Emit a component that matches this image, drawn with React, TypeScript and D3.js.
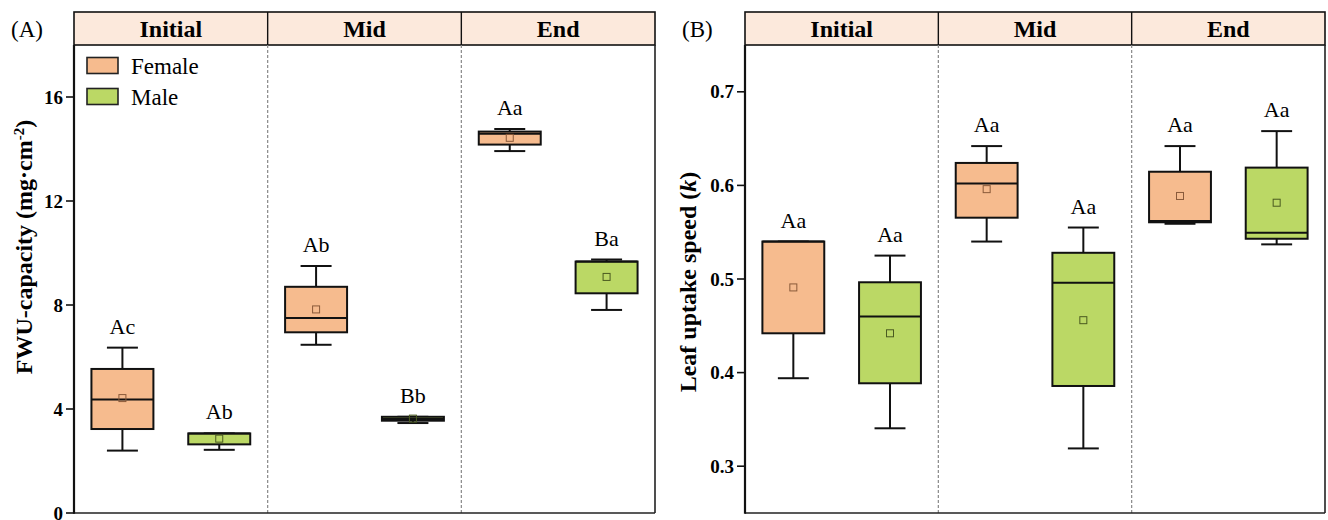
import React from "react";
import * as d3 from "d3";

const stages = ["Initial", "Mid", "End"];
const sexes = ["Female", "Male"];

// Box stats per stage: [whiskerLow, q1, median, q3, whiskerHigh, mean]
const fwuFemale = [
  [2.4, 3.23, 4.37, 5.54, 6.36, 4.42],
  [6.47, 6.95, 7.5, 8.7, 9.5, 7.83],
  [13.92, 14.17, 14.59, 14.67, 14.77, 14.43],
];
const fwuMale = [
  [2.43, 2.64, 3.06, 3.06, 3.06, 2.86],
  [3.46, 3.55, 3.62, 3.7, 3.7, 3.63],
  [7.81, 8.45, 9.67, 9.67, 9.75, 9.08],
];
const fwuFemaleLetters = ["Ac", "Ab", "Aa"];
const fwuMaleLetters = ["Ab", "Bb", "Ba"];
const fwuTicks = [0, 4, 8, 12, 16];

const kFemale = [
  [0.394, 0.442, 0.54, 0.54, 0.54, 0.491],
  [0.54, 0.5655, 0.602, 0.624, 0.642, 0.596],
  [0.559, 0.5606, 0.562, 0.6146, 0.642, 0.5887],
];
const kMale = [
  [0.3405, 0.3886, 0.46, 0.4965, 0.525, 0.442],
  [0.319, 0.3857, 0.496, 0.528, 0.555, 0.456],
  [0.537, 0.543, 0.5495, 0.619, 0.658, 0.5815],
];
const kFemaleLetters = ["Aa", "Aa", "Aa"];
const kMaleLetters = ["Aa", "Aa", "Aa"];
const kTicks = [0.3, 0.4, 0.5, 0.6, 0.7];

const fills: Record<string, string> = { Female: "#F6BB8E", Male: "#BBD865" };
const meanStroke: Record<string, string> = { Female: "#8a5a3a", Male: "#4a5a20" };
const SERIF = "'Liberation Serif', 'Times New Roman', serif";

type PanelProps = {
  left: number;
  right: number;
  tag: string;
  domain: [number, number];
  ticks: number[];
  tickFmt: (v: number) => string;
  female: number[][];
  male: number[][];
  femaleLetters: string[];
  maleLetters: string[];
  title: React.ReactNode;
  titleX: number;
  titleY: number;
  legend: boolean;
};

const TOP = 12;
const HEAD = 45;
const BOTTOM = 513;

function Panel(p: PanelProps) {
  const y = d3.scaleLinear().domain(p.domain).range([BOTTOM, HEAD]);
  const xs = d3.scaleBand().domain(stages).range([p.left, p.right]).padding(0);
  const inner = d3
    .scaleBand()
    .domain(sexes)
    .range([0, xs.bandwidth()])
    .paddingInner(0.36)
    .paddingOuter(0.18);
  const bw = inner.bandwidth();
  const series: Record<string, { stats: number[][]; letters: string[] }> = {
    Female: { stats: p.female, letters: p.femaleLetters },
    Male: { stats: p.male, letters: p.maleLetters },
  };
  return (
    <g>
      {/* header */}
      <rect x={p.left} y={TOP} width={p.right - p.left} height={HEAD - TOP} fill="#FCE9DC" stroke="#111" strokeWidth={1.6} />
      {stages.map((s, i) => (
        <g key={s}>
          {i > 0 && (
            <line x1={xs(s)!} x2={xs(s)!} y1={TOP} y2={HEAD} stroke="#111" strokeWidth={1.4} />
          )}
          {i > 0 && (
            <line x1={xs(s)!} x2={xs(s)!} y1={HEAD} y2={BOTTOM} stroke="#888" strokeWidth={1.2} strokeDasharray="3,2" />
          )}
          <text x={xs(s)! + xs.bandwidth() / 2} y={36.5} textAnchor="middle" fontFamily={SERIF} fontWeight="bold" fontSize={24}>
            {s}
          </text>
        </g>
      ))}
      {/* frame */}
      <line x1={p.left} x2={p.right} y1={BOTTOM} y2={BOTTOM} stroke="#222" strokeWidth={1.6} />
      <line x1={p.right} x2={p.right} y1={HEAD} y2={BOTTOM} stroke="#222" strokeWidth={1.6} />
      <line x1={p.left} x2={p.left} y1={HEAD} y2={BOTTOM + 0.8} stroke="#111" strokeWidth={2.2} />
      {/* ticks */}
      {p.ticks.map((t) => (
        <g key={t}>
          <line x1={p.left - 8} x2={p.left} y1={y(t)} y2={y(t)} stroke="#111" strokeWidth={1.6} />
          <text x={p.left - 11} y={y(t) + 6.5} textAnchor="end" fontFamily={SERIF} fontWeight="bold" fontSize={19}>
            {p.tickFmt(t)}
          </text>
        </g>
      ))}
      {/* tag */}
      <text x={p.left - 63} y={37} fontFamily={SERIF} fontSize={23}>
        {p.tag}
      </text>
      {/* y title */}
      <text
        transform={`translate(${p.titleX},${p.titleY}) rotate(-90)`}
        textAnchor="middle"
        fontFamily={SERIF}
        fontWeight="bold"
        fontSize={24}
      >
        {p.title}
      </text>
      {/* boxes */}
      {stages.map((s, i) =>
        sexes.map((sx) => {
          const [lo, q1, med, q3, hi, mean] = series[sx].stats[i];
          const cx = xs(s)! + inner(sx)! + bw / 2;
          const x0 = cx - bw / 2;
          const cap = bw / 4;
          return (
            <g key={s + sx}>
              <line x1={cx} x2={cx} y1={y(q3)} y2={y(hi)} stroke="#111" strokeWidth={2} />
              <line x1={cx} x2={cx} y1={y(q1)} y2={y(lo)} stroke="#111" strokeWidth={2} />
              <line x1={cx - cap} x2={cx + cap} y1={y(hi)} y2={y(hi)} stroke="#111" strokeWidth={2} />
              <line x1={cx - cap} x2={cx + cap} y1={y(lo)} y2={y(lo)} stroke="#111" strokeWidth={2} />
              <rect x={x0} y={y(q3)} width={bw} height={y(q1) - y(q3)} fill={fills[sx]} stroke="#111" strokeWidth={2} />
              <line x1={x0} x2={x0 + bw} y1={y(med)} y2={y(med)} stroke="#111" strokeWidth={2} />
              <rect x={cx - 3.5} y={y(mean) - 3.5} width={7} height={7} fill="none" stroke={meanStroke[sx]} strokeWidth={1} />
              <text x={cx} y={y(hi) - 14} textAnchor="middle" fontFamily={SERIF} fontSize={22}>
                {series[sx].letters[i]}
              </text>
            </g>
          );
        })
      )}
      {/* legend */}
      {p.legend &&
        sexes.map((sx, i) => (
          <g key={sx}>
            <rect x={p.left + 13} y={57.5 + i * 31} width={31} height={16} fill={fills[sx]} stroke="#222" strokeWidth={1.6} />
            <text x={p.left + 57} y={73.5 + i * 31} fontFamily={SERIF} fontSize={23}>
              {sx}
            </text>
          </g>
        ))}
    </g>
  );
}

export default function App() {
  return (
    <svg
      width={1328}
      height={520}
      style={{ position: "absolute", left: 0, top: 0, background: "#fff" }}
    >
      <rect width={1328} height={520} fill="#fff" />
      <Panel
        left={74}
        right={655}
        tag="(A)"
        domain={[0, 18]}
        ticks={fwuTicks}
        tickFmt={(v) => String(v)}
        female={fwuFemale}
        male={fwuMale}
        femaleLetters={fwuFemaleLetters}
        maleLetters={fwuMaleLetters}
        titleX={32}
        titleY={247}
        legend={true}
        title={
          <>
            FWU-capacity (mg·cm
            <tspan baselineShift="super" fontSize={15}>-2</tspan>
            )
          </>
        }
      />
      <Panel
        left={745}
        right={1325}
        tag="(B)"
        domain={[0.25, 0.75]}
        ticks={kTicks}
        tickFmt={(v) => d3.format(".1f")(v)}
        female={kFemale}
        male={kMale}
        femaleLetters={kFemaleLetters}
        maleLetters={kMaleLetters}
        titleX={696}
        titleY={282}
        legend={false}
        title={
          <>
            Leaf uptake speed (<tspan fontStyle="italic">k</tspan>)
          </>
        }
      />
    </svg>
  );
}
